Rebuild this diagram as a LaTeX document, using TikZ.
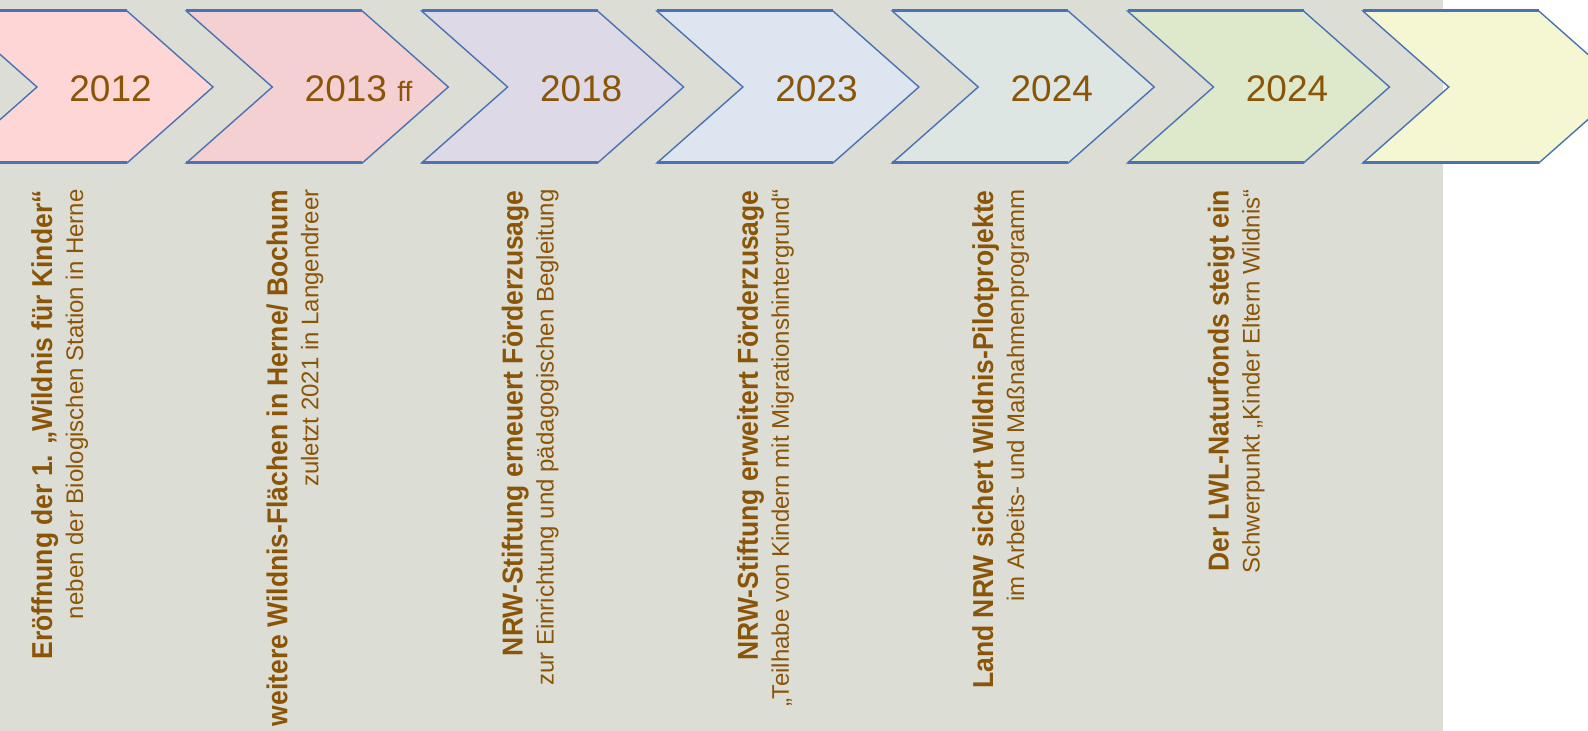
\documentclass[tikz,border=0pt]{standalone}
\usepackage{fontspec}
\setmainfont{Liberation Sans}
\newfontfamily\headfont[FakeStretch=0.92]{Liberation Sans}
\usetikzlibrary{positioning}

\definecolor{bgGray}{HTML}{DCDDD5}
\definecolor{chevBlue}{HTML}{4A72B5}
\definecolor{txtBrown}{HTML}{8B5508}
\definecolor{chevA}{HTML}{FFD6D6}
\definecolor{chevB}{HTML}{F5D0D3}
\definecolor{chevC}{HTML}{DDD9E6}
\definecolor{chevD}{HTML}{DCE5F0}
\definecolor{chevE}{HTML}{DDE6E3}
\definecolor{chevF}{HTML}{DEE8CB}
\definecolor{chevG}{HTML}{F5F7D3}

\begin{document}
\begin{tikzpicture}[x=0.5pt,y=-0.5pt,
    chev/.style={draw=chevBlue,line width=0.7pt},
    chevedge/.style={draw=chevBlue,line width=1.5pt},
    year/.style={anchor=base west,inner sep=0pt,text=txtBrown,font=\fontsize{18.5}{22}\selectfont},
    headline/.style={anchor=base east,rotate=90,inner sep=0pt,text=txtBrown,font=\headfont\bfseries\fontsize{14.4}{17}\selectfont},
    subline/.style={anchor=base east,rotate=90,inner sep=0pt,text=txtBrown,font=\fontsize{12}{14}\selectfont}]
    \useasboundingbox (0,0) rectangle (1588,731);
    \clip (0,0) rectangle (1588,731);
    \fill[bgGray] (0,0) rectangle (1443,731);

    % chevrons
    \draw[chev,fill=chevA] (-49,11) -- ++(176,0) -- ++(86,76) -- ++(-86,76) -- ++(-176,0) -- ++(86,-76) -- cycle;
    \draw[chevedge] (-49,11) -- ++(176,0) (-49,163) -- ++(176,0);
    \draw[chev,fill=chevB] (186.3,11) -- ++(176,0) -- ++(86,76) -- ++(-86,76) -- ++(-176,0) -- ++(86,-76) -- cycle;
    \draw[chevedge] (186.3,11) -- ++(176,0) (186.3,163) -- ++(176,0);
    \draw[chev,fill=chevC] (421.6,11) -- ++(176,0) -- ++(86,76) -- ++(-86,76) -- ++(-176,0) -- ++(86,-76) -- cycle;
    \draw[chevedge] (421.6,11) -- ++(176,0) (421.6,163) -- ++(176,0);
    \draw[chev,fill=chevD] (656.9,11) -- ++(176,0) -- ++(86,76) -- ++(-86,76) -- ++(-176,0) -- ++(86,-76) -- cycle;
    \draw[chevedge] (656.9,11) -- ++(176,0) (656.9,163) -- ++(176,0);
    \draw[chev,fill=chevE] (892.2,11) -- ++(176,0) -- ++(86,76) -- ++(-86,76) -- ++(-176,0) -- ++(86,-76) -- cycle;
    \draw[chevedge] (892.2,11) -- ++(176,0) (892.2,163) -- ++(176,0);
    \draw[chev,fill=chevF] (1127.5,11) -- ++(176,0) -- ++(86,76) -- ++(-86,76) -- ++(-176,0) -- ++(86,-76) -- cycle;
    \draw[chevedge] (1127.5,11) -- ++(176,0) (1127.5,163) -- ++(176,0);
    \draw[chev,fill=chevG] (1362.8,11) -- ++(176,0) -- ++(86,76) -- ++(-86,76) -- ++(-176,0) -- ++(86,-76) -- cycle;
    \draw[chevedge] (1362.8,11) -- ++(176,0) (1362.8,163) -- ++(176,0);

    % years
    \node[year] (y2012)  at (69,101.7) {2012};
    \node[year] (y2013)  at (304.3,101.7) {2013 {\fontsize{14}{16}\selectfont ff}};
    \node[year] (y2018)  at (539.6,101.7) {2018};
    \node[year] (y2023)  at (774.9,101.7) {2023};
    \node[year] (y2024a) at (1010.2,101.7) {2024};
    \node[year] (y2024b) at (1245.5,101.7) {2024};

    % texts
    \node[headline] (h2012)  at (52,190)     {Eröffnung der 1. „Wildnis für Kinder“};
    \node[subline]  (s2012)  at (83,189)     {neben der Biologischen Station in Herne};
    \node[headline] (h2013)  at (287.3,190)  {weitere Wildnis-Flächen in Herne/ Bochum};
    \node[subline]  (s2013)  at (318.3,189)  {zuletzt 2021 in Langendreer};
    \node[headline] (h2018)  at (522.6,190)  {NRW-Stiftung erneuert Förderzusage};
    \node[subline]  (s2018)  at (553.6,189)  {zur Einrichtung und pädagogischen Begleitung};
    \node[headline] (h2023)  at (757.9,190)  {NRW-Stiftung erweitert Förderzusage};
    \node[subline]  (s2023)  at (788.9,189)  {„Teilhabe von Kindern mit Migrationshintergrund“};
    \node[headline] (h2024a) at (993.2,190)  {Land NRW sichert Wildnis-Pilotprojekte};
    \node[subline]  (s2024a) at (1024.2,189) {im Arbeits- und Maßnahmenprogramm};
    \node[headline] (h2024b) at (1228.5,190) {Der LWL-Naturfonds steigt ein};
    \node[subline]  (s2024b) at (1259.5,189) {Schwerpunkt „Kinder Eltern Wildnis“};
\end{tikzpicture}
\end{document}
